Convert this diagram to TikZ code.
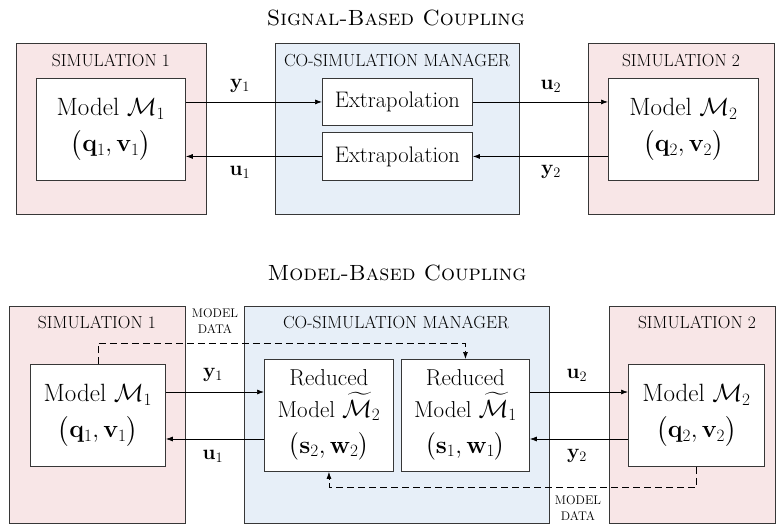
\documentclass[tikz,border=0pt]{standalone}
\usepackage{amsmath,amssymb}
\usetikzlibrary{arrows.meta,calc}
\definecolor{simfill}{RGB}{248,230,231}
\definecolor{mgrfill}{RGB}{231,239,248}
\definecolor{edge}{RGB}{55,55,55}
\begin{document}
\begin{tikzpicture}[x=1pt,y=-1pt,
  container/.style={draw=edge,line width=0.9pt,anchor=north west,inner sep=0pt},
  simbox/.style={container,fill=simfill},
  mgrbox/.style={container,fill=mgrfill},
  whitebox/.style={draw=edge,line width=0.9pt,fill=white,anchor=north west,inner sep=0pt},
  ctitle/.style={font=\fontsize{17.5}{20}\selectfont},
  mtext/.style={font=\fontsize{25}{30}\selectfont,align=center},
  etext/.style={font=\fontsize{22.5}{26}\selectfont,align=center},
  rtext/.style={font=\fontsize{23}{32}\selectfont,align=center},
  sigl/.style={font=\fontsize{20}{22}\selectfont},
  mdata/.style={font=\fontsize{12.5}{16}\selectfont,align=center},
  bigtitle/.style={font=\fontsize{22}{26}\selectfont},
  link/.style={line width=0.7pt,-{Latex[length=7pt,width=5pt]}},
  dlink/.style={line width=0.7pt,dash pattern=on 7pt off 4pt,-{Latex[length=7pt,width=5pt]}}
]
\useasboundingbox (0,0) rectangle (777,524);

% ---------------- Signal-based coupling ----------------
\node[bigtitle] (t1) at (396,18) {\textsc{Signal-Based Coupling}};

\node[simbox,minimum width=190pt,minimum height=171pt] (sA) at (16,43) {};
\node[mgrbox,minimum width=244pt,minimum height=171pt] (mA) at (275,43) {};
\node[simbox,minimum width=186pt,minimum height=171pt] (sB) at (588,43) {};

\node[ctitle] (sAt) at (111,60) {SIMULATION 1};
\node[ctitle] (mAt) at (397,60) {CO-SIMULATION MANAGER};
\node[ctitle] (sBt) at (681,60) {SIMULATION 2};

\node[whitebox,minimum width=149pt,minimum height=102pt] (m1) at (36,78) {};
\node[mtext] (m1t) at (m1.center) {Model $\mathcal{M}_1$\\[6pt] $\bigl(\mathbf{q}_1,\mathbf{v}_1\bigr)$};
\node[whitebox,minimum width=150pt,minimum height=102pt] (m2) at (608,78) {};
\node[mtext] (m2t) at (m2.center) {Model $\mathcal{M}_2$\\[6pt] $\bigl(\mathbf{q}_2,\mathbf{v}_2\bigr)$};

\node[whitebox,minimum width=150pt,minimum height=47pt] (e1) at (322,78) {};
\node[etext] (e1t) at (e1.center) {Extrapolation};
\node[whitebox,minimum width=150pt,minimum height=48pt] (e2) at (322,132) {};
\node[etext] (e2t) at (e2.center) {Extrapolation};

\draw[link] (m1.east |- e1.west) -- (e1.west);
\draw[link] (e2.west) -- (m1.east |- e2.west);
\draw[link] (e1.east) -- (m2.west |- e1.east);
\draw[link] (m2.west |- e2.east) -- (e2.east);

\node[sigl] (ly1) at (240,86) {$\mathbf{y}_1$};
\node[sigl] (lu1) at (240,172) {$\mathbf{u}_1$};
\node[sigl] (lu2) at (551,86) {$\mathbf{u}_2$};
\node[sigl] (ly2) at (551,172) {$\mathbf{y}_2$};

% ---------------- Model-based coupling ----------------
\node[bigtitle] (t2) at (397,273) {\textsc{Model-Based Coupling}};

\node[simbox,minimum width=176pt,minimum height=217pt] (sC) at (9,306) {};
\node[mgrbox,minimum width=305pt,minimum height=217pt] (mC) at (244,306) {};
\node[simbox,minimum width=166pt,minimum height=217pt] (sD) at (609,306) {};

\node[ctitle] (sCt) at (97,322) {SIMULATION 1};
\node[ctitle] (mCt) at (396,322) {CO-SIMULATION MANAGER};
\node[ctitle] (sDt) at (697,322) {SIMULATION 2};

\node[whitebox,minimum width=135pt,minimum height=102pt] (n1) at (30,364) {};
\node[mtext] (n1t) at (n1.center) {Model $\mathcal{M}_1$\\[6pt] $\bigl(\mathbf{q}_1,\mathbf{v}_1\bigr)$};
\node[whitebox,minimum width=136pt,minimum height=102pt] (n2) at (628,364) {};
\node[mtext] (n2t) at (n2.center) {Model $\mathcal{M}_2$\\[6pt] $\bigl(\mathbf{q}_2,\mathbf{v}_2\bigr)$};

\node[whitebox,minimum width=129pt,minimum height=112pt] (r2) at (264,359) {};
\node[rtext] (r2t) at (r2.center) {Reduced\\ Model $\widetilde{\mathcal{M}}_2$\\[4pt] $\bigl(\mathbf{s}_2,\mathbf{w}_2\bigr)$};
\node[whitebox,minimum width=128pt,minimum height=112pt] (r1) at (401,359) {};
\node[rtext] (r1t) at (r1.center) {Reduced\\ Model $\widetilde{\mathcal{M}}_1$\\[4pt] $\bigl(\mathbf{s}_1,\mathbf{w}_1\bigr)$};

\coordinate (ya) at (0,392);
\coordinate (yb) at (0,439);
\draw[link] (n1.east |- ya) -- (r2.west |- ya);
\draw[link] (r2.west |- yb) -- (n1.east |- yb);
\draw[link] (r1.east |- ya) -- (n2.west |- ya);
\draw[link] (n2.west |- yb) -- (r1.east |- yb);

\node[sigl] (ly1b) at (213,375) {$\mathbf{y}_1$};
\node[sigl] (lu1b) at (213,456) {$\mathbf{u}_1$};
\node[sigl] (lu2b) at (577,375) {$\mathbf{u}_2$};
\node[sigl] (ly2b) at (577,456) {$\mathbf{y}_2$};

\coordinate (dtop) at (0,343);
\coordinate (dbot) at (0,487);
\draw[dlink] (n1.north) -- (n1.north |- dtop) -| (r1.north);
\draw[dlink] (n2.south) -- (n2.south |- dbot) -| (r2.south);

\node[mdata] (md1) at (215,321) {MODEL\\DATA};
\node[mdata] (md2) at (578,508) {MODEL\\DATA};
\end{tikzpicture}
\end{document}
